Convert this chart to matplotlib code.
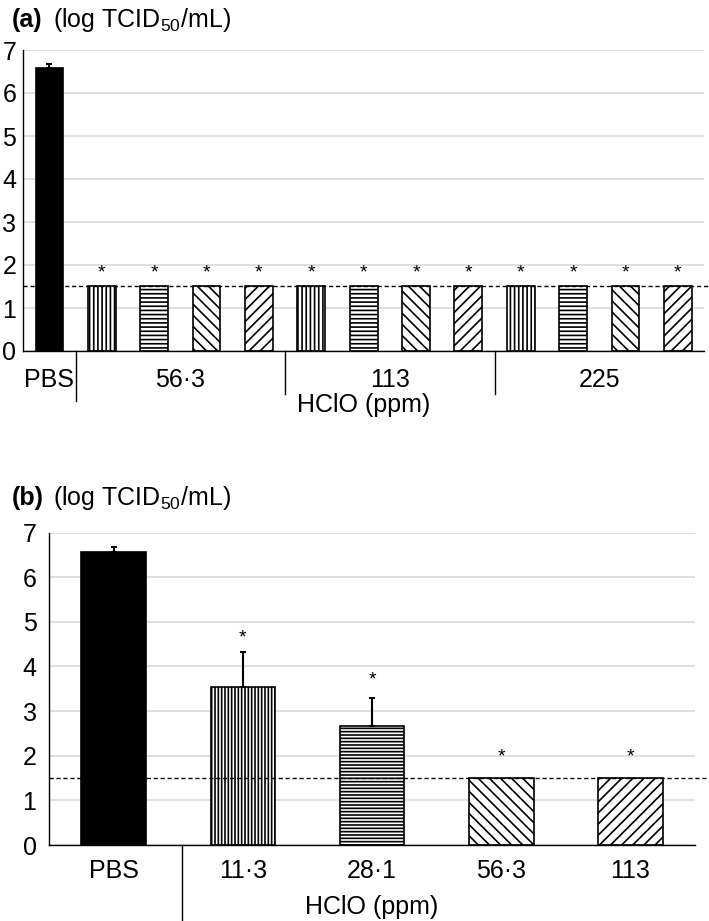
import matplotlib
matplotlib.use('Agg')
import matplotlib.pyplot as plt
import matplotlib.transforms as mtransforms

plt.rcParams['font.family'] = ['Liberation Sans', 'DejaVu Sans']
plt.rcParams['mathtext.default'] = 'regular'
plt.rcParams['hatch.linewidth'] = 1.2

# ---- panel (a) data ----
a_values = [6.57, 1.5, 1.5, 1.5, 1.5, 1.5, 1.5, 1.5, 1.5, 1.5, 1.5, 1.5, 1.5]
a_err = [0.1, 0, 0, 0, 0, 0, 0, 0, 0, 0, 0, 0, 0]
a_star = [None, 1.98, 1.98, 1.98, 1.98, 1.98, 1.98, 1.98, 1.98, 1.98, 1.98, 1.98, 1.98]
a_groups = ['PBS', '56·3', '113', '225']
a_group_pos = [0, 2.5, 6.5, 10.5]
a_separators = [0.5, 4.5, 8.5]

# ---- panel (b) data ----
b_cats = ['PBS', '11·3', '28·1', '56·3', '113']
b_values = [6.57, 3.53, 2.67, 1.5, 1.5]
b_err = [0.1, 0.8, 0.62, 0, 0]
b_star = [None, 4.78, 3.85, 2.13, 2.13]

detect_limit = 1.5

W, H = 709, 921
FS = 18
fig = plt.figure(figsize=(W / 100, H / 100), dpi=100)


def style_axes(ax, pad_y):
    ax.set_ylim(0, 7)
    ax.set_yticks(range(8))
    ax.yaxis.grid(True, color='#dcdcdc', lw=1.3)
    ax.set_axisbelow(True)
    for s in ['top', 'right']:
        ax.spines[s].set_visible(False)
    ax.spines['left'].set_linewidth(1.0)
    ax.spines['bottom'].set_linewidth(1.0)
    ax.tick_params(axis='y', length=0, labelsize=FS, pad=pad_y)
    ax.tick_params(axis='x', length=0, labelsize=FS)


def draw_bars(ax, values, errs, stars, hatches, width):
    x = list(range(len(values)))
    for i, v in enumerate(values):
        if hatches[i] is None:
            ax.bar(x[i], v, width, color='black', edgecolor='black', lw=1.2, zorder=2)
        else:
            ax.bar(x[i], v, width, color='white', edgecolor='black', lw=1.2,
                   hatch=hatches[i], zorder=2)
        if errs[i] > 0:
            ax.errorbar(x[i], v, yerr=[[0], [errs[i]]], fmt='none',
                        ecolor='black', elinewidth=1.5, capsize=2.5,
                        capthick=1.5, zorder=3)
    for i, s in enumerate(stars):
        if s is not None:
            ax.annotate('*', (x[i], s), xytext=(0, -8), textcoords='offset points',
                        ha='center', va='baseline', fontsize=14)


# ---- panel (a) ----
ax1 = fig.add_axes([23.3 / W, 570 / H, 680.7 / W, 301 / H])
style_axes(ax1, 5)
hatch_a = [None] + ['||||', '----', '\\\\\\', '///'] * 3
draw_bars(ax1, a_values, a_err, a_star, hatch_a, 0.53)
ax1.set_xlim(-0.5, len(a_values) - 0.5)
ax1.set_xticks(a_group_pos, a_groups)
ax1.tick_params(axis='x', pad=12)
ax1.axhline(detect_limit, xmin=0, xmax=(W - 23.3) / 680.7, color='black',
            lw=1, ls=(0, (3, 2)), clip_on=False, zorder=4)
trans1 = mtransforms.blended_transform_factory(ax1.transData, ax1.transAxes)
for j, sx in enumerate(a_separators):
    depth = -0.166 if j == 0 else -0.143
    ax1.plot([sx, sx], [0, depth], color='black', lw=1, transform=trans1, clip_on=False)
ax1.set_xlabel('HClO (ppm)', fontsize=FS)
ax1.xaxis.set_label_coords(0.5, -0.14)

# ---- panel (b) ----
ax2 = fig.add_axes([49 / W, 76 / H, 646 / W, 312.5 / H])
style_axes(ax2, 9)
hatch_b = [None, '|||||', '-----', '\\\\\\', '///']
draw_bars(ax2, b_values, b_err, b_star, hatch_b, 0.5)
ax2.set_xlim(-0.5, len(b_values) - 0.5)
ax2.set_xticks(range(len(b_cats)), b_cats)
ax2.tick_params(axis='x', pad=10)
ax2.axhline(detect_limit, xmin=0, xmax=(W - 49) / 646, color='black',
            lw=1, ls=(0, (3, 2)), clip_on=False, zorder=4)
trans2 = mtransforms.blended_transform_factory(ax2.transData, ax2.transAxes)
ax2.plot([0.53, 0.53], [0, -0.25], color='black', lw=1, transform=trans2, clip_on=False)
ax2.set_xlabel('HClO (ppm)', fontsize=FS)
ax2.xaxis.set_label_coords(0.5, -0.16)

# ---- panel titles ----
fig.text(12 / W, 1 - 27 / H, '(a)', fontsize=FS, fontweight='bold', va='baseline')
fig.text(53 / W, 1 - 27 / H, '(log TCID$_{50}$/mL)', fontsize=FS, va='baseline')
fig.text(12 / W, 1 - 505 / H, '(b)', fontsize=FS, fontweight='bold', va='baseline')
fig.text(53 / W, 1 - 505 / H, '(log TCID$_{50}$/mL)', fontsize=FS, va='baseline')

fig.savefig('out.png', dpi=100)
